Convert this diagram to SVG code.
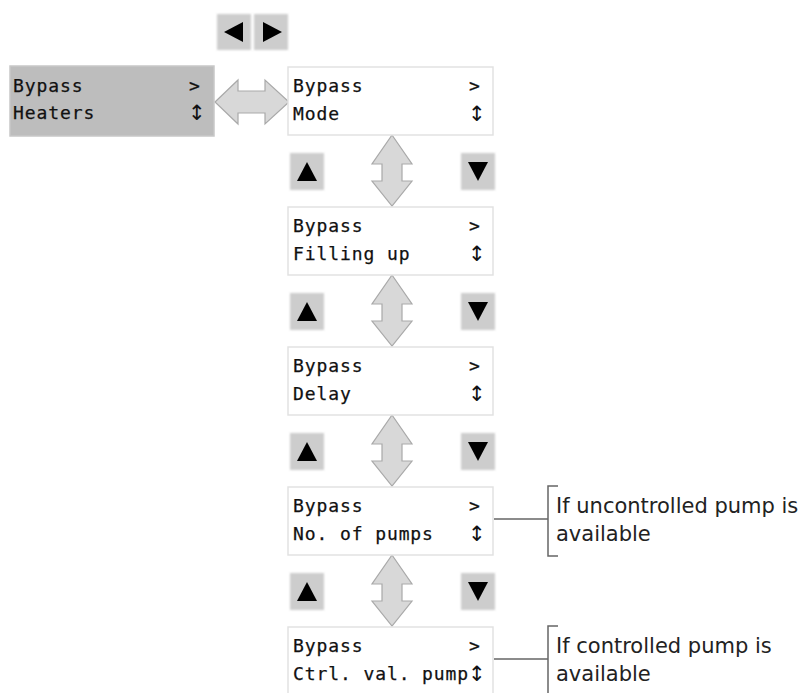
<svg xmlns="http://www.w3.org/2000/svg" width="804" height="693" viewBox="0 0 804 693">
  <style>
    .lcd { fill: #ffffff; stroke: #e2e2e2; stroke-width: 1.5; }
    .lcd-sel { fill: #bdbdbd; stroke: #c8c8c8; stroke-width: 1.5; }
    .mono { font-family: "DejaVu Sans Mono", "Liberation Mono", monospace; font-size: 18px; letter-spacing: 0.9px; fill: #111; stroke: #111; stroke-width: 0.25; }
    .updn { font-family: "DejaVu Sans", "Noto Sans", sans-serif; font-size: 21px; fill: #111; }
    .note { font-family: "DejaVu Sans", "Noto Sans", sans-serif; font-size: 21px; fill: #222; }
    .btn { fill: #cdcdcd; }
    .glyph { fill: #000; }
    .arrow { fill: #d8d8d8; stroke: #a9a9a9; stroke-width: 1.2; }
    .bracket { fill: none; stroke: #666; stroke-width: 1.5; }
  </style>
  <defs>
    <filter id="soft" x="-20%" y="-20%" width="140%" height="140%">
      <feGaussianBlur stdDeviation="1.2"/>
    </filter>
    <!-- vertical double arrow, 40 wide, spans 0..71 -->
    <path id="vArrow" d="M0,0 L20,29 L10,29 L10,46 L20,46 L0,71 L-20,46 L-10,46 L-10,29 L-20,29 Z"/>
    <g id="upBtn">
      <rect class="btn" x="0" y="0" width="34" height="37" filter="url(#soft)"/>
      <polygon class="glyph" points="17,9 27,28 7,28"/>
    </g>
    <g id="downBtn">
      <rect class="btn" x="0" y="0" width="34" height="37" filter="url(#soft)"/>
      <polygon class="glyph" points="7,9 27,9 17,28"/>
    </g>
  </defs>

  <!-- left / right keys -->
  <g id="key-left">
    <rect class="btn" x="217" y="14" width="34" height="36" filter="url(#soft)"/>
    <polygon class="glyph" points="224,32 243,22 243,42"/>
  </g>
  <g id="key-right">
    <rect class="btn" x="254" y="14" width="34" height="36" filter="url(#soft)"/>
    <polygon class="glyph" points="282,32 263,22 263,42"/>
  </g>

  <!-- connectors -->
  <g id="connectors">
    <path class="arrow" d="M215,102 L238,80 L238,91 L265,91 L265,80 L289,102 L265,124 L265,113 L238,113 L238,124 Z"/>
    <use href="#vArrow" class="arrow" x="392" y="135"/>
    <use href="#vArrow" class="arrow" x="392" y="275"/>
    <use href="#vArrow" class="arrow" x="392" y="415"/>
    <use href="#vArrow" class="arrow" x="392" y="555"/>
    <path class="bracket" d="M494,519 H548 M558,486 H548 V556 H558"/>
    <path class="bracket" d="M494,659 H548 M558,626 H548 V696 H558"/>
  </g>

  <!-- up / down keys between menu entries -->
  <g id="keys-updown">
    <use href="#upBtn" x="290" y="153"/><use href="#downBtn" x="461" y="153"/>
    <use href="#upBtn" x="290" y="293"/><use href="#downBtn" x="461" y="293"/>
    <use href="#upBtn" x="290" y="433"/><use href="#downBtn" x="461" y="433"/>
    <use href="#upBtn" x="290" y="573"/><use href="#downBtn" x="461" y="573"/>
  </g>

  <g id="menu-heaters">
    <rect class="lcd-sel" x="10" y="66" width="204" height="70"/>
    <text class="mono" x="13" y="92">Bypass</text>
    <text class="mono" x="189" y="92">&gt;</text>
    <text class="mono" x="13" y="119">Heaters</text>
    <text class="updn" x="188" y="120">↕</text>
  </g>

  <g id="menu-mode">
    <rect class="lcd" x="288" y="67" width="205" height="68"/>
    <text class="mono" x="293" y="92">Bypass</text>
    <text class="mono" x="469" y="92">&gt;</text>
    <text class="mono" x="293" y="120">Mode</text>
    <text class="updn" x="468" y="121">↕</text>
  </g>

  <g id="menu-filling">
    <rect class="lcd" x="288" y="207" width="205" height="68"/>
    <text class="mono" x="293" y="232">Bypass</text>
    <text class="mono" x="469" y="232">&gt;</text>
    <text class="mono" x="293" y="260">Filling up</text>
    <text class="updn" x="468" y="261">↕</text>
  </g>

  <g id="menu-delay">
    <rect class="lcd" x="288" y="347" width="205" height="68"/>
    <text class="mono" x="293" y="372">Bypass</text>
    <text class="mono" x="469" y="372">&gt;</text>
    <text class="mono" x="293" y="400">Delay</text>
    <text class="updn" x="468" y="401">↕</text>
  </g>

  <g id="menu-pumps">
    <rect class="lcd" x="288" y="487" width="205" height="68"/>
    <text class="mono" x="293" y="512">Bypass</text>
    <text class="mono" x="469" y="512">&gt;</text>
    <text class="mono" x="293" y="540">No. of pumps</text>
    <text class="updn" x="468" y="541">↕</text>
  </g>

  <g id="menu-ctrl-pump">
    <rect class="lcd" x="288" y="627" width="205" height="70"/>
    <text class="mono" x="293" y="652">Bypass</text>
    <text class="mono" x="469" y="652">&gt;</text>
    <text class="mono" x="293" y="680">Ctrl. val. pump</text>
    <text class="updn" x="468" y="681">↕</text>
  </g>

  <g id="note-uncontrolled">
    <text class="note" x="556" y="513">If uncontrolled pump is</text>
    <text class="note" x="556" y="541">available</text>
  </g>
  <g id="note-controlled">
    <text class="note" x="556" y="653">If controlled pump is</text>
    <text class="note" x="556" y="681">available</text>
  </g>
</svg>
